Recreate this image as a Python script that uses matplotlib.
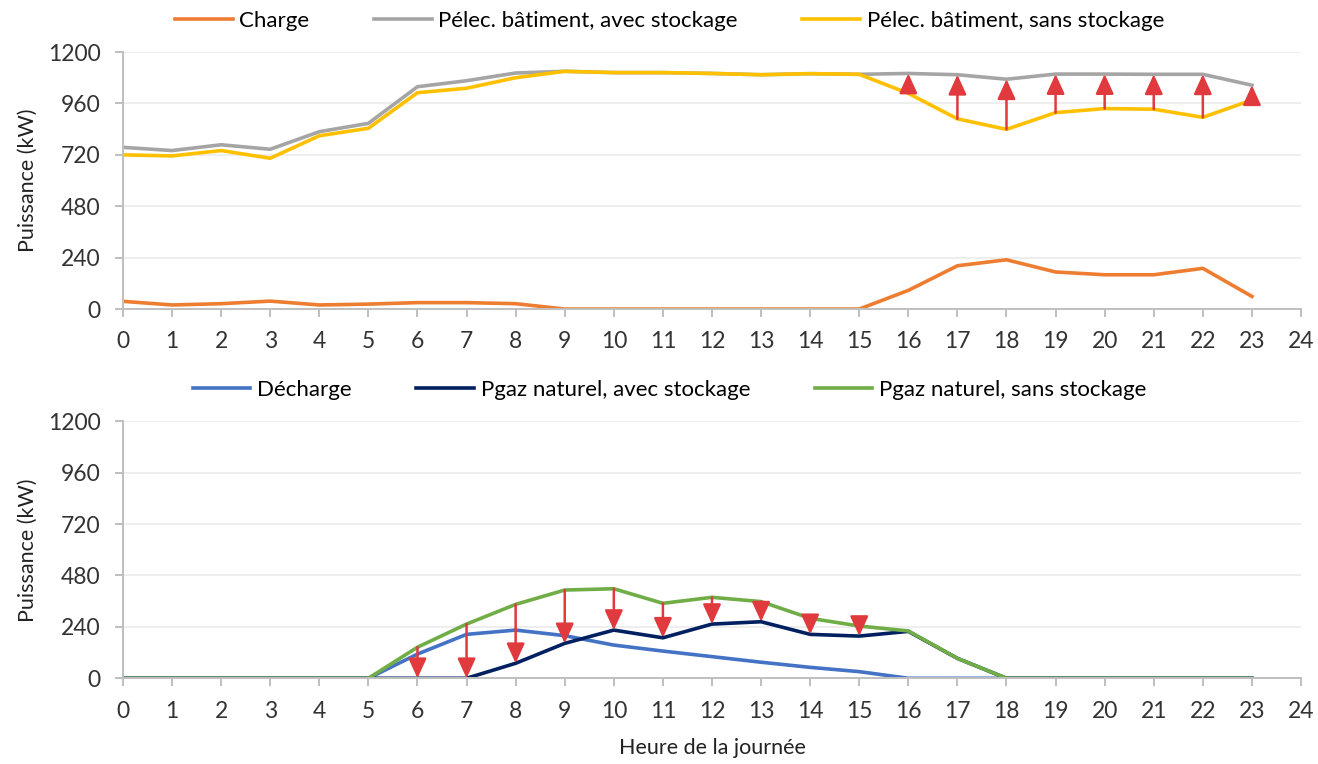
import matplotlib.pyplot as plt

# Données (kW)
heures = list(range(24))
charge = [36, 19, 25, 37, 19, 23, 30, 30, 25, 0, 0, 0, 0, 0, 0, 0, 87, 202, 230, 173, 160, 160, 190, 59]
elec_avec = [755, 740, 767, 746, 828, 867, 1038, 1066, 1102, 1110, 1104, 1104,
             1100, 1094, 1099, 1096, 1100, 1094, 1073, 1097, 1097, 1096, 1096, 1045]
elec_sans = [720, 715, 740, 704, 809, 844, 1010, 1031, 1080, 1110, 1104, 1104,
             1100, 1094, 1099, 1096, 1007, 888, 839, 917, 936, 933, 895, 976]

decharge = [0, 0, 0, 0, 0, 0, 113, 205, 225, 199, 155, 127, 101, 75, 51, 31, 0, 0, 0, 0, 0, 0, 0, 0]
gaz_avec = [0, 0, 0, 0, 0, 0, 0, 0, 70, 163, 225, 189, 253, 264, 205, 197, 219, 93, 0, 0, 0, 0, 0, 0]
gaz_sans = [0, 0, 0, 0, 0, 0, 145, 253, 345, 412, 418, 350, 378, 358, 280, 244, 221, 93, 0, 0, 0, 0, 0, 0]

fleches_haut = list(range(16, 24))
fleches_bas = list(range(6, 16))

yticks = [0, 240, 480, 720, 960, 1200]
xticks = list(range(25))

plt.rcParams['font.family'] = ['Lato', 'DejaVu Sans']
rouge = '#E03A3E'
gris_axe = '#BFBFBF'


def prepare_axe(ax):
    ax.set_xlim(0, 24)
    ax.set_ylim(0, 1200)
    ax.set_xticks(xticks)
    ax.set_yticks(yticks)
    ax.grid(axis='y', color='#EDEDED', lw=1.3)
    ax.set_axisbelow(True)
    for s in ['top', 'right']:
        ax.spines[s].set_visible(False)
    for s in ['left', 'bottom']:
        ax.spines[s].set_color(gris_axe)
        ax.spines[s].set_linewidth(1.4)
    ax.tick_params(axis='x', length=6, width=1.4, color=gris_axe, pad=10, labelsize=16.5, labelcolor='#333333')
    ax.tick_params(axis='y', length=6, width=1.4, color=gris_axe, pad=10, labelsize=16.5, labelcolor='#333333')
    ax.set_ylabel('Puissance (kW)', fontsize=15.5, color='#222222', labelpad=7)


def fleche(ax, x, y0, y1):
    ax.annotate('', xy=(x, y1), xytext=(x, y0),
                arrowprops=dict(arrowstyle='-|>,head_length=1.2,head_width=0.55',
                                color=rouge, lw=1.8, shrinkA=0, shrinkB=0,
                                mutation_scale=10), zorder=5)


fig = plt.figure(figsize=(13.18, 7.64), dpi=100)

# graphique du haut : électricité
ax1 = fig.add_axes([0.0933, 0.5955, 0.8938, 0.3364])
prepare_axe(ax1)
l1, = ax1.plot(heures, charge, color='#ED7D31', lw=2.6, label='Charge')
l2, = ax1.plot(heures, elec_avec, color='#A5A5A5', lw=2.6, label='Pélec. bâtiment, avec stockage')
l3, = ax1.plot(heures, elec_sans, color='#FFC000', lw=2.6, label='Pélec. bâtiment, sans stockage')
for h in fleches_haut:
    fleche(ax1, h, elec_sans[h], elec_avec[h])
fig.legend(handles=[l1, l2, l3], loc='center', bbox_to_anchor=(0.508, 1 - 21 / 764),
           ncol=3, frameon=False, fontsize=16, handlelength=2.6, handletextpad=0.3,
           columnspacing=2.9)

# graphique du bas : gaz naturel
ax2 = fig.add_axes([0.0933, 0.1122, 0.8938, 0.3364])
prepare_axe(ax2)
l4, = ax2.plot(heures, decharge, color='#4472C4', lw=2.6, label='Décharge')
l5, = ax2.plot(heures, gaz_avec, color='#002060', lw=2.6, label='Pgaz naturel, avec stockage')
l6, = ax2.plot(heures, gaz_sans, color='#70AD47', lw=2.6, label='Pgaz naturel, sans stockage')
for h in fleches_bas:
    fleche(ax2, h, gaz_sans[h], gaz_avec[h])
fig.legend(handles=[l4, l5, l6], loc='center', bbox_to_anchor=(0.508, 1 - 390 / 764),
           ncol=3, frameon=False, fontsize=16, handlelength=2.6, handletextpad=0.3,
           columnspacing=2.9)
ax2.set_xlabel('Heure de la journée', fontsize=15.5, color='#222222', labelpad=12)

fig.savefig('out.png', dpi=100)
